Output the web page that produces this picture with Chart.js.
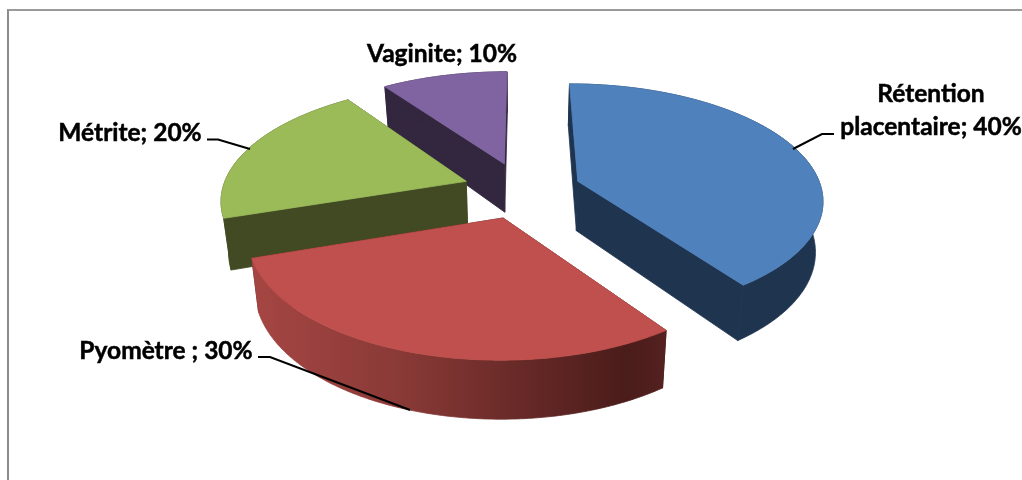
<!DOCTYPE html>
<html>
<head>
<meta charset="utf-8">
<title>Pathologies</title>
<script src="https://cdn.jsdelivr.net/npm/chart.js@4/dist/chart.umd.min.js"></script>
<style>
html, body { margin: 0; padding: 0; background: #fff; overflow: hidden; }
#chart-container { position: relative; width: 1022px; height: 480px; }
#frame { position: absolute; left: 7px; top: 9px; width: 1015px; height: 471px; box-sizing: border-box;
         border-left: 2px solid #8c8c8c; border-top: 2px solid #9a9a9a; }
canvas { position: absolute; left: 0; top: 0; }
</style>
</head>
<body>
<div id="chart-container">
    <div id="frame"></div>
    <canvas id="chart" width="1022" height="480"></canvas>
</div>
<script>
const categories = ["Rétention placentaire", "Pyomètre ", "Métrite", "Vaginite"];
const percentages = [40, 30, 20, 10];
const topColors = ["#4f81bd", "#c0504d", "#9bbb59", "#8064a2"];
const wallColors = ["#1e344f", "#4b1c1a", "#414a22", "#33263f"];

// label text lines, baseline position and leader line, same order as categories
const labelLines = [
    ["Rétention", "placentaire; 40%"],
    ["Pyomètre ; 30%"],
    ["Métrite; 20%"],
    ["Vaginite; 10%"]
];
const labelSpots = [
    { x: 931, y: 102, lineGap: 33, leader: [[834, 134], [822, 134], [793, 149]] },
    { x: 166, y: 359, lineGap: 0, leader: [[258, 357], [270, 357], [410, 410]] },
    { x: 130, y: 141, lineGap: 0, leader: [[207, 139.5], [218, 139.5], [250, 149]] },
    { x: 442, y: 62, lineGap: 0, leader: [] }
];

// view used to tilt the flat pie
const view = { cx: 522, cy: 190, radius: 244, tilt: 0.48, persp: 0.0006, depth: 50, shrink: 0.975 };
const drawOrder = [3, 2, 0, 1];

function project(u, v) {
    const s = 1 + v * view.persp;
    return { x: view.cx + u * s, y: view.cy + v * view.tilt * s, s: s };
}

function lower(p) {
    return { x: view.cx + (p.x - view.cx) * view.shrink, y: p.y + view.depth * p.s };
}

function fillPoly(ctx, points, fill) {
    ctx.beginPath();
    points.forEach((p, i) => i ? ctx.lineTo(p.x, p.y) : ctx.moveTo(p.x, p.y));
    ctx.closePath();
    ctx.fillStyle = fill;
    ctx.fill();
    // hides the light seam between two pieces
    ctx.strokeStyle = fill;
    ctx.lineWidth = 0.8;
    ctx.stroke();
}

function drawSlice(ctx, arc, index) {
    const props = arc.getProps(["startAngle", "endAngle", "outerRadius"], true);
    const scale = view.radius / props.outerRadius;
    const mid = (props.startAngle + props.endAngle) / 2;
    const off = arc.options.offset * scale;
    const ox = Math.cos(mid) * off;
    const oy = Math.sin(mid) * off;

    const apex = project(ox, oy);
    const rim = [];
    const steps = Math.ceil((props.endAngle - props.startAngle) / 0.01);
    for (let i = 0; i <= steps; i++) {
        const a = props.startAngle + (props.endAngle - props.startAngle) * i / steps;
        rim.push(project(ox + Math.cos(a) * view.radius, oy + Math.sin(a) * view.radius));
    }
    const rimLow = rim.map(lower);
    const first = rim[0], last = rim[rim.length - 1];

    fillPoly(ctx, [apex, first, rimLow[0], lower(apex)], wallColors[index]);
    fillPoly(ctx, [apex, last, rimLow[rimLow.length - 1], lower(apex)], wallColors[index]);

    let wallFill = wallColors[index];
    if (index === 1) {
        // the front wall of the red slice goes darker towards the right
        wallFill = ctx.createLinearGradient(250, 0, 669, 0);
        wallFill.addColorStop(0, "#a64643");
        wallFill.addColorStop(0.35, "#8a3a37");
        wallFill.addColorStop(0.9, "#4a1c1a");
        wallFill.addColorStop(1, "#552220");
    }
    fillPoly(ctx, rim.concat(rimLow.slice().reverse()), wallFill);
    fillPoly(ctx, [apex].concat(rim), topColors[index]);
}

const tiltedPie = {
    id: "tiltedPie",
    beforeDatasetDraw(chart) {
        const ctx = chart.ctx;
        const arcs = chart.getDatasetMeta(0).data;
        ctx.save();
        drawOrder.forEach(i => drawSlice(ctx, arcs[i], i));
        ctx.restore();
        return false;
    },
    afterDatasetsDraw(chart) {
        const ctx = chart.ctx;
        ctx.save();
        ctx.strokeStyle = "#000";
        ctx.lineWidth = 2;
        labelSpots.forEach(spot => {
            if (!spot.leader.length) return;
            ctx.beginPath();
            spot.leader.forEach((p, i) => i ? ctx.lineTo(p[0], p[1]) : ctx.moveTo(p[0], p[1]));
            ctx.stroke();
        });
        ctx.fillStyle = "#000";
        ctx.font = "bold 24.5px Lato";
        ctx.textAlign = "center";
        ctx.textBaseline = "alphabetic";
        ctx.lineWidth = 0.5;
        labelLines.forEach((lines, i) => {
            lines.forEach((line, j) => {
                const y = labelSpots[i].y + j * labelSpots[i].lineGap;
                ctx.fillText(line, labelSpots[i].x, y);
                ctx.strokeText(line, labelSpots[i].x, y);
            });
        });
        ctx.restore();
    }
};

new Chart(document.getElementById("chart").getContext("2d"), {
    type: "pie",
    data: {
        labels: categories,
        datasets: [{
            data: percentages,
            backgroundColor: topColors,
            offset: 52,
            borderWidth: 0
        }]
    },
    options: {
        responsive: false,
        animation: false,
        plugins: {
            legend: { display: false },
            tooltip: { enabled: false }
        }
    },
    plugins: [tiltedPie]
});
</script>
</body>
</html>
